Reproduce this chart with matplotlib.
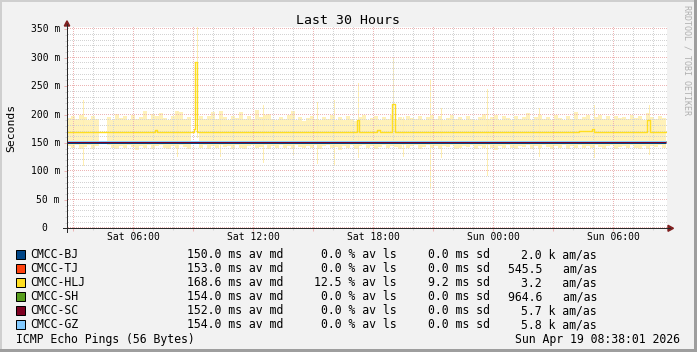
import numpy as np
import matplotlib
matplotlib.use("Agg")
import matplotlib.pyplot as plt
from matplotlib.patches import Rectangle, Polygon
from matplotlib.lines import Line2D
from matplotlib.transforms import ScaledTranslation

W, H = 697, 352
MONO = "DejaVu Sans Mono"

# ---------------- data ----------------
hosts = ["CMCC-BJ", "CMCC-TJ", "CMCC-HLJ", "CMCC-SH", "CMCC-SC", "CMCC-GZ"]
host_colors = ["#004586", "#ff420e", "#ffde20", "#579d1c", "#7e0021", "#83caff"]
median_ms = [150.0, 153.0, 168.6, 154.0, 152.0, 154.0]
loss_pct = [0.0, 0.0, 12.5, 0.0, 0.0, 0.0]
sd_ms = [0.0, 0.0, 9.2, 0.0, 0.0, 0.0]
am_value = [2.0, 545.5, 3.2, 964.6, 5.7, 5.8]
am_prefix = ["k", " ", " ", " ", "k", "k"]

# time axis: hours since Sat 00:00
t_start, t_end = 2.685, 32.685
data_end = 32.62
label_hours = [6, 12, 18, 24, 30]
label_texts = ["Sat 06:00", "Sat 12:00", "Sat 18:00", "Sun 00:00", "Sun 06:00"]
major_grid_hours = list(range(3, 33, 3))
minor_grid_hours = list(range(3, 33, 1))
ytick_vals = [0, 50, 100, 150, 200, 250, 300, 350]
ytick_labels = ["0", "50 m", "100 m", "150 m", "200 m", "250 m", "300 m", "350 m"]
yminor_vals = list(range(0, 351, 10))

# CMCC-HLJ median (step line): change times and values
hlj_t = [2.685, 7.085, 7.2, 9.035, 9.07, 9.2, 17.2, 17.285, 18.2, 18.335,
         18.62, 18.735, 18.95, 19.07, 28.285, 28.935, 29.05, 31.67, 31.835, 32.62]
hlj_v = [168.6, 172.5, 168.6, 175.0, 292.0, 168.6, 190.0, 168.6, 172.0, 168.6,
         170.0, 168.6, 219.0, 168.6, 170.5, 174.0, 168.6, 191.0, 168.6, 168.6]

# CMCC-HLJ smoke band (150 time bins), ms
nan = np.nan
smoke_top = [
    194, 197, 192, 199, 195, 190, 198, 193, 204, nan,
    196, 191, 201, 194, 197, 190, 199, 193, 196, 206,
    192, 201, 198, 202, 194, 190, 197, 207, 205, 193,
    196, 191, nan, 198, 193, 197, 204, 192, 206, 195,
    191, 198, 194, 205, 192, 197, 193, 208, 195, 199,
    201, 193, 190, 196, 192, 199, 207, 191, 195, 189,
    194, 198, 192, 190, 196, 193, 199, 191, 195, 190,
    197, 192, 189, 195, 200, 191, 194, 198, 190, 196,
    193, 199, 191, 196, 190, 198, 194, 192, 197, 191,
    195, 200, 192, 197, 190, 194, 199, 193, 196, 191,
    198, 193, 190, 196, 201, 192, 195, 199, 191, 197,
    194, 190, 198, 193, 196, 202, 191, 195, 199, 192,
    196, 191, 199, 194, 190, 197, 193, 205, 192, 196,
    199, 191, 195, 200, 193, 197, 190, 198, 194, 196,
    192, 199, 194, 197, 191, 203, 195, 193, 198, 194]
smoke_bottom = [
    144, 141, 146, 139, 143, 147, 140, 145, 142, nan,
    146, 142, 139, 145, 141, 147, 143, 138, 145, 141,
    146, 140, 144, 147, 142, 139, 145, 141, 146, 143,
    140, 145, nan, 142, 146, 139, 144, 141, 147, 143,
    145, 139, 146, 142, 140, 144, 147, 141, 143, 146,
    139, 144, 141, 147, 142, 145, 140, 146, 143, 141,
    145, 142, 147, 140, 144, 146, 141, 143, 138, 145,
    142, 146, 140, 144, 147, 141, 145, 139, 143, 146,
    141, 145, 143, 139, 146, 142, 144, 147, 140, 143,
    146, 141, 144, 140, 145, 143, 147, 139, 142, 145,
    143, 147, 140, 144, 141, 146, 142, 138, 145, 141,
    146, 142, 139, 145, 143, 147, 140, 144, 141, 146,
    143, 140, 145, 142, 147, 139, 144, 141, 146, 142,
    145, 141, 147, 143, 139, 144, 146, 140, 143, 145,
    141, 146, 142, 139, 144, 140, 145, 143, 147, 142]

# isolated smoke spikes: time (h), low, high (ms)
spike_t = [3.485, 8.185, 9.185, 10.335, 12.485, 13.985, 15.185, 16.035, 17.235,
           18.985, 19.485, 20.835, 21.385, 23.685, 26.285, 29.035, 31.785]
spike_lo = [111, 128, 160, 128, 117, 131, 114, 111, 125, 150, 128, 70, 125, 93, 128, 125, 131]
spike_hi = [225, 207, 354, 195, 216, 207, 222, 225, 255, 301, 195, 263, 212, 245, 211, 217, 217]

# ---------------- styling ----------------
BACK = "#f2f2f2"
SHADEA = "#cfcfcf"
SHADEB = "#9e9e9e"
GRID = "#d3d3d3"
MGRID = "#ecb4b4"
ARROW = "#801f1f"
AXIS = "#2a2a2a"
SMOKE = "#fff1b9"
SPIKE = "#ffeeb0"
PX = 0.72  # one pixel in points

fig = plt.figure(figsize=(W / 100, H / 100), dpi=100, facecolor=BACK)


def fx(x):
    return x / W


def fy(y):
    return 1 - y / H


ax_left, ax_right = 67, 667
ax_bottom, ax_top = 228.3, 26.7
ax = fig.add_axes([fx(ax_left), fy(ax_bottom), (ax_right - ax_left) / W, (ax_bottom - ax_top) / H])
ax.set_facecolor("white")
for s in ax.spines.values():
    s.set_visible(False)
ymax = 354.5
ax.set_xlim(t_start, t_end)
ax.set_ylim(0, ymax)

# ticks (short marks outside the axes, like rrdtool's grid overhang)
ax.set_xticks(major_grid_hours)
ax.set_xticks(minor_grid_hours, minor=True)
ax.set_xticklabels([label_texts[label_hours.index(h)] if h in label_hours else "" for h in major_grid_hours],
                   fontfamily=MONO, fontsize=7)
ax.set_yticks(ytick_vals)
ax.set_yticks(yminor_vals, minor=True)
ax.set_yticklabels([])
ax.tick_params(which="major", direction="out", length=3 * PX, width=PX, color=MGRID, pad=0.3)
ax.tick_params(which="minor", direction="out", length=2 * PX, width=PX, color=GRID)
ax.tick_params(axis="x", which="major", labelcolor="black")

# dotted grid drawn as single-pixel dots (1 on / 1 off)
px_x = (t_end - t_start) / (ax_right - ax_left)      # hours per pixel
px_y = ymax / (ax_bottom - ax_top)                   # ms per pixel
dots_x = np.arange(t_start + 0.5 * px_x, t_end, 2 * px_x)
dots_y = np.arange(0.5 * px_y, ymax, 2 * px_y)
for v in yminor_vals:
    col = MGRID if v in ytick_vals else GRID
    ax.plot(dots_x, np.full_like(dots_x, v), linestyle="none", marker=",", color=col, zorder=0.5)
for h in minor_grid_hours:
    col = MGRID if h in major_grid_hours else GRID
    ax.plot(np.full_like(dots_y, h), dots_y, linestyle="none", marker=",", color=col, zorder=0.5)

# y labels (manual so that "0" keeps rrdtool's alignment)
ytrans = ax.get_yaxis_transform()
for v, lab in zip(ytick_vals, ytick_labels):
    off = -7 if lab != "0" else -19.7
    ax.text(0, v, lab, transform=ytrans + ScaledTranslation(off / 100, 0, fig.dpi_scale_trans),
            ha="right", va="center", fontfamily=MONO, fontsize=7, color="black")

# smoke
n = len(smoke_top)
step = (data_end - t_start) / n
st = t_start + step * np.arange(n + 1)
top = np.append(np.array(smoke_top, float), smoke_top[-1])
bot = np.append(np.array(smoke_bottom, float), smoke_bottom[-1])
valid = ~np.isnan(top)
ax.fill_between(st, np.nan_to_num(bot), np.nan_to_num(top), where=valid, step="post",
                color=SMOKE, linewidth=0, zorder=0.3, interpolate=False)
ax.vlines(spike_t, spike_lo, spike_hi, color=SPIKE, linewidth=PX, zorder=0.35, antialiased=False)

# lines
for name, col, med in zip(hosts, host_colors, median_ms):
    if name == "CMCC-HLJ":
        ax.plot(hlj_t, hlj_v, drawstyle="steps-post", color=col, linewidth=1.0, zorder=3)
    else:
        ax.plot([t_start, data_end], [med, med], color=col, linewidth=PX, zorder=3,
                solid_capstyle="butt")

# axis lines and arrows (figure pixel space)
fig.add_artist(Line2D([fx(63), fx(670)], [fy(ax_bottom), fy(ax_bottom)], color=AXIS, linewidth=PX))
fig.add_artist(Line2D([fx(ax_left), fx(ax_left)], [fy(231.5), fy(24)], color=AXIS, linewidth=PX))
fig.add_artist(Polygon([[fx(668), fy(225.3)], [fx(673.5), fy(228.3)], [fx(668), fy(231.3)]],
                       closed=True, color=ARROW, transform=fig.transFigure))
fig.add_artist(Polygon([[fx(64.3), fy(26)], [fx(67), fy(20.8)], [fx(69.7), fy(26)]],
                       closed=True, color=ARROW, transform=fig.transFigure))

# texts
fig.text(fx(348.5), fy(24), "Last 30 Hours", ha="center", va="baseline", fontfamily=MONO, fontsize=9.5)
fig.text(fx(10.8), fy(128), "Seconds", rotation=90, ha="center", va="center", fontfamily=MONO, fontsize=8.2)
fig.text(fx(687.5), fy(5), "RRDTOOL / TOBI OETIKER", rotation=270, ha="center", va="top",
         fontfamily=MONO, fontsize=6, color="#b0b0b0")

# legend
LF = 8.3
for i, name in enumerate(hosts):
    c = 254.2 + 14 * i
    base = c + 4.2
    fig.add_artist(Rectangle((fx(15.5), fy(c + 4.5)), 9 / W, 9 / H, transform=fig.transFigure,
                             facecolor=host_colors[i], edgecolor="black", linewidth=PX))
    fig.text(fx(30), fy(base), name, ha="left", va="baseline", fontfamily=MONO, fontsize=LF)
    fig.text(fx(283), fy(base), f"{median_ms[i]:.1f} ms av md", ha="right", va="baseline",
             fontfamily=MONO, fontsize=LF)
    fig.text(fx(397), fy(base), f"{loss_pct[i]:.1f} % av ls", ha="right", va="baseline",
             fontfamily=MONO, fontsize=LF)
    fig.text(fx(490), fy(base), f"{sd_ms[i]:.1f} ms sd", ha="right", va="baseline",
             fontfamily=MONO, fontsize=LF)
    fig.text(fx(597), fy(base), f"{am_value[i]:.1f} {am_prefix[i]} am/as", ha="right", va="baseline",
             fontfamily=MONO, fontsize=LF)

fig.text(fx(16), fy(342.5), "ICMP Echo Pings (56 Bytes)", ha="left", va="baseline", fontfamily=MONO, fontsize=LF)
fig.text(fx(680), fy(342.5), "Sun Apr 19 08:38:01 2026", ha="right", va="baseline", fontfamily=MONO, fontsize=LF)

# 3D frame
fig.add_artist(Rectangle((0, fy(2)), 1, 2 / H, transform=fig.transFigure, color=SHADEA, linewidth=0))
fig.add_artist(Rectangle((0, 0), 2 / W, 1, transform=fig.transFigure, color=SHADEA, linewidth=0))
fig.add_artist(Rectangle((0, 0), 1, 3 / H, transform=fig.transFigure, color=SHADEB, linewidth=0))
fig.add_artist(Rectangle((fx(W - 3), 0), 3 / W, 1, transform=fig.transFigure, color=SHADEB, linewidth=0))

fig.savefig("out.png", dpi=100, facecolor=BACK)
